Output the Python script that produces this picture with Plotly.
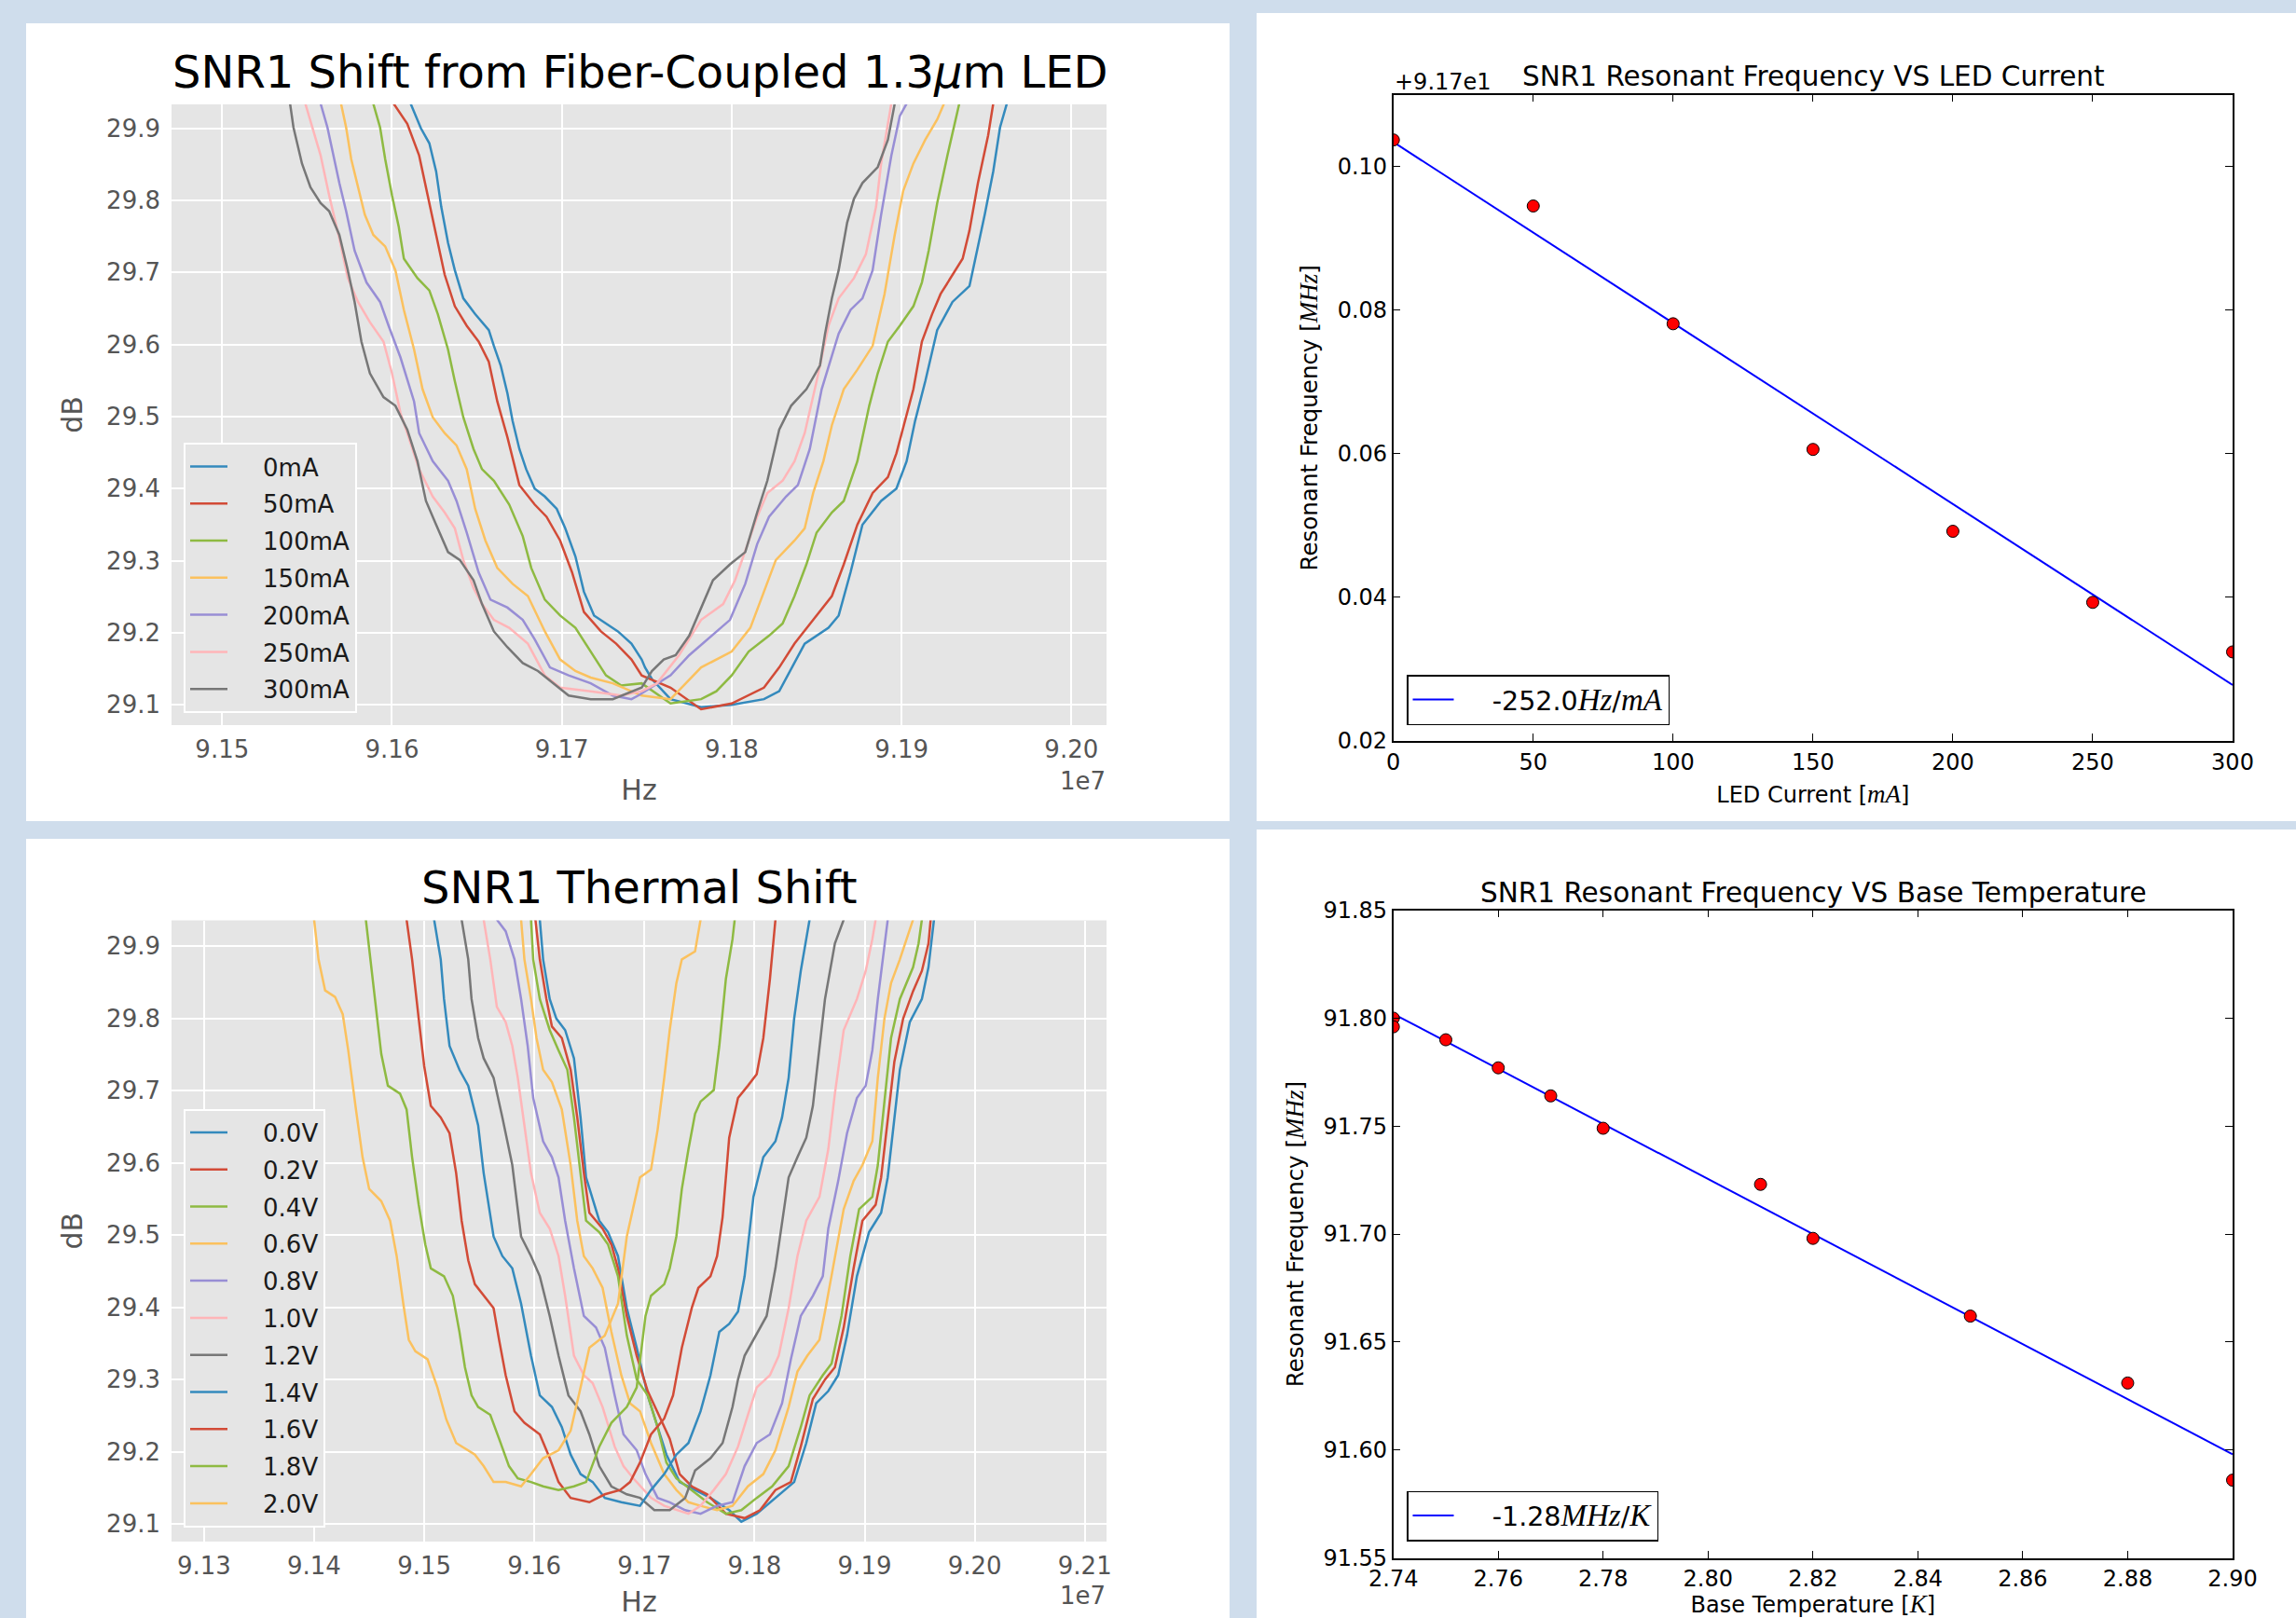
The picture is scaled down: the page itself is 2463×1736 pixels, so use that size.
import plotly.graph_objects as go

W, H = 2463, 1736

# ---------------- data: top-left, SNR1 shift vs LED current (freq MHz, dB) ----------------
LED_LABELS = ["0mA", "50mA", "100mA", "150mA", "200mA", "250mA", "300mA"]

LED_0mA = [(91.611, 29.934), (91.617, 29.900), (91.622, 29.879), (91.626, 29.840), (91.629, 29.791),
           (91.633, 29.741), (91.637, 29.703), (91.642, 29.664), (91.649, 29.642), (91.657, 29.620),
           (91.660, 29.598), (91.664, 29.571), (91.668, 29.532), (91.671, 29.494), (91.675, 29.455),
           (91.679, 29.427), (91.684, 29.400), (91.690, 29.389), (91.697, 29.372), (91.702, 29.345),
           (91.708, 29.306), (91.713, 29.257), (91.719, 29.224), (91.726, 29.213), (91.733, 29.202),
           (91.741, 29.185), (91.747, 29.163), (91.749, 29.152), (91.753, 29.136), (91.764, 29.108),
           (91.782, 29.097), (91.800, 29.100), (91.819, 29.108), (91.828, 29.119), (91.843, 29.185),
           (91.857, 29.207), (91.863, 29.224), (91.870, 29.284), (91.877, 29.350), (91.888, 29.383),
           (91.897, 29.400), (91.903, 29.438), (91.908, 29.494), (91.914, 29.549), (91.921, 29.620),
           (91.930, 29.659), (91.940, 29.681), (91.943, 29.714), (91.949, 29.780), (91.954, 29.840),
           (91.958, 29.901), (91.962, 29.934)]
LED_50mA = [(91.601, 29.934), (91.609, 29.906), (91.616, 29.862), (91.622, 29.796), (91.627, 29.741),
            (91.631, 29.697), (91.637, 29.653), (91.644, 29.626), (91.651, 29.604), (91.657, 29.576),
            (91.662, 29.521), (91.668, 29.471), (91.675, 29.405), (91.684, 29.378), (91.691, 29.361),
            (91.699, 29.328), (91.706, 29.284), (91.713, 29.229), (91.723, 29.202), (91.732, 29.185),
            (91.741, 29.163), (91.747, 29.141), (91.764, 29.124), (91.782, 29.094), (91.800, 29.102),
            (91.819, 29.124), (91.828, 29.152), (91.837, 29.185), (91.848, 29.218), (91.859, 29.251),
            (91.866, 29.295), (91.874, 29.350), (91.883, 29.394), (91.892, 29.416), (91.897, 29.449),
            (91.903, 29.504), (91.907, 29.538), (91.912, 29.604), (91.918, 29.642), (91.923, 29.670),
            (91.930, 29.697), (91.936, 29.719), (91.940, 29.758), (91.945, 29.824), (91.951, 29.890),
            (91.954, 29.934)]
LED_100mA = [(91.589, 29.934), (91.593, 29.901), (91.596, 29.857), (91.600, 29.807), (91.604, 29.763),
             (91.607, 29.719), (91.615, 29.692), (91.622, 29.675), (91.627, 29.642), (91.633, 29.593),
             (91.637, 29.549), (91.642, 29.499), (91.648, 29.455), (91.653, 29.427), (91.660, 29.411),
             (91.669, 29.378), (91.677, 29.334), (91.682, 29.290), (91.690, 29.246), (91.699, 29.224),
             (91.708, 29.207), (91.717, 29.174), (91.726, 29.141), (91.735, 29.127), (91.747, 29.130),
             (91.764, 29.102), (91.782, 29.108), (91.791, 29.119), (91.800, 29.141), (91.810, 29.174),
             (91.822, 29.196), (91.830, 29.213), (91.837, 29.251), (91.844, 29.295), (91.850, 29.339),
             (91.859, 29.367), (91.866, 29.383), (91.874, 29.438), (91.881, 29.515), (91.886, 29.560),
             (91.892, 29.604), (91.899, 29.626), (91.907, 29.653), (91.912, 29.686), (91.916, 29.730),
             (91.921, 29.796), (91.927, 29.862), (91.934, 29.934)]
LED_150mA = [(91.570, 29.934), (91.573, 29.901), (91.576, 29.857), (91.580, 29.818), (91.584, 29.780),
             (91.589, 29.752), (91.596, 29.736), (91.602, 29.703), (91.607, 29.648), (91.613, 29.593),
             (91.618, 29.538), (91.624, 29.499), (91.631, 29.477), (91.638, 29.460), (91.644, 29.427),
             (91.649, 29.372), (91.655, 29.328), (91.662, 29.290), (91.671, 29.268), (91.680, 29.251),
             (91.690, 29.202), (91.699, 29.163), (91.708, 29.147), (91.717, 29.138), (91.730, 29.130),
             (91.747, 29.113), (91.764, 29.108), (91.773, 29.130), (91.782, 29.152), (91.800, 29.174),
             (91.811, 29.207), (91.819, 29.257), (91.826, 29.301), (91.837, 29.328), (91.843, 29.345),
             (91.848, 29.394), (91.854, 29.438), (91.859, 29.488), (91.866, 29.538), (91.874, 29.565),
             (91.883, 29.598), (91.890, 29.670), (91.896, 29.752), (91.901, 29.813), (91.907, 29.851),
             (91.914, 29.884), (91.921, 29.912), (91.925, 29.934)]
LED_200mA = [(91.558, 29.934), (91.562, 29.901), (91.565, 29.868), (91.569, 29.824), (91.573, 29.785),
             (91.578, 29.730), (91.585, 29.686), (91.593, 29.659), (91.598, 29.626), (91.605, 29.582),
             (91.613, 29.521), (91.616, 29.477), (91.624, 29.438), (91.633, 29.411), (91.638, 29.383),
             (91.644, 29.339), (91.651, 29.284), (91.658, 29.246), (91.668, 29.235), (91.677, 29.218),
             (91.684, 29.191), (91.693, 29.152), (91.704, 29.141), (91.717, 29.130), (91.730, 29.113),
             (91.741, 29.108), (91.745, 29.113), (91.764, 29.141), (91.775, 29.169), (91.788, 29.196),
             (91.799, 29.218), (91.808, 29.268), (91.815, 29.323), (91.822, 29.361), (91.832, 29.389),
             (91.839, 29.405), (91.846, 29.455), (91.853, 29.538), (91.863, 29.615), (91.870, 29.648),
             (91.877, 29.664), (91.883, 29.703), (91.888, 29.780), (91.894, 29.862), (91.899, 29.917),
             (91.903, 29.934)]
LED_250mA = [(91.549, 29.934), (91.553, 29.901), (91.558, 29.862), (91.563, 29.807), (91.569, 29.747),
             (91.574, 29.692), (91.580, 29.659), (91.587, 29.631), (91.595, 29.604), (91.600, 29.560),
             (91.605, 29.505), (91.609, 29.477), (91.616, 29.427), (91.624, 29.389), (91.631, 29.367),
             (91.637, 29.345), (91.642, 29.301), (91.648, 29.262), (91.653, 29.240), (91.660, 29.218),
             (91.669, 29.207), (91.680, 29.185), (91.690, 29.141), (91.699, 29.124), (91.717, 29.119),
             (91.735, 29.113), (91.747, 29.119), (91.756, 29.130), (91.769, 29.169), (91.782, 29.218),
             (91.795, 29.240), (91.802, 29.273), (91.810, 29.328), (91.815, 29.361), (91.821, 29.394),
             (91.830, 29.411), (91.837, 29.438), (91.843, 29.477), (91.850, 29.549), (91.857, 29.626),
             (91.863, 29.664), (91.872, 29.692), (91.879, 29.725), (91.885, 29.791), (91.888, 29.851),
             (91.892, 29.906), (91.894, 29.934)]
LED_300mA = [(91.540, 29.934), (91.542, 29.901), (91.547, 29.851), (91.552, 29.818), (91.558, 29.796),
             (91.563, 29.785), (91.569, 29.752), (91.574, 29.703), (91.578, 29.659), (91.582, 29.604),
             (91.587, 29.560), (91.595, 29.527), (91.602, 29.515), (91.609, 29.482), (91.615, 29.438),
             (91.620, 29.383), (91.626, 29.350), (91.633, 29.312), (91.640, 29.301), (91.648, 29.273),
             (91.653, 29.240), (91.660, 29.202), (91.668, 29.180), (91.677, 29.158), (91.686, 29.147),
             (91.695, 29.130), (91.704, 29.113), (91.717, 29.108), (91.730, 29.108), (91.747, 29.124),
             (91.753, 29.147), (91.760, 29.163), (91.767, 29.169), (91.775, 29.196), (91.782, 29.235),
             (91.789, 29.273), (91.799, 29.295), (91.808, 29.312), (91.815, 29.367), (91.821, 29.411),
             (91.828, 29.482), (91.835, 29.515), (91.844, 29.538), (91.852, 29.571), (91.855, 29.615),
             (91.859, 29.664), (91.863, 29.703), (91.868, 29.769), (91.872, 29.802), (91.877, 29.824),
             (91.886, 29.846), (91.892, 29.884), (91.896, 29.934)]

# ---------------- data: bottom-left, SNR1 thermal shift (freq MHz, dB) ----------------
THERMAL_LABELS = ["0.0V", "0.2V", "0.4V", "0.6V", "0.8V", "1.0V", "1.2V", "1.4V", "1.6V", "1.8V", "2.0V"]

V_0p0 = [(91.605, 29.937), (91.608, 29.882), (91.614, 29.827), (91.620, 29.800), (91.628, 29.784),
         (91.636, 29.745), (91.642, 29.663), (91.647, 29.580), (91.659, 29.520), (91.667, 29.504),
         (91.676, 29.471), (91.684, 29.399), (91.693, 29.344), (91.703, 29.278), (91.712, 29.234),
         (91.720, 29.196), (91.732, 29.158), (91.746, 29.147), (91.760, 29.136), (91.777, 29.119),
         (91.788, 29.103), (91.802, 29.114), (91.819, 29.136), (91.836, 29.158), (91.847, 29.212),
         (91.856, 29.267), (91.867, 29.284), (91.876, 29.306), (91.884, 29.361), (91.893, 29.443),
         (91.904, 29.504), (91.915, 29.531), (91.921, 29.580), (91.927, 29.663), (91.932, 29.729),
         (91.941, 29.795), (91.952, 29.827), (91.958, 29.871), (91.963, 29.937)]
V_0p2 = [(91.601, 29.937), (91.605, 29.882), (91.611, 29.827), (91.616, 29.789), (91.625, 29.773),
         (91.633, 29.729), (91.639, 29.663), (91.645, 29.586), (91.650, 29.531), (91.662, 29.509),
         (91.670, 29.487), (91.676, 29.454), (91.684, 29.388), (91.693, 29.333), (91.703, 29.284),
         (91.715, 29.245), (91.723, 29.218), (91.732, 29.169), (91.743, 29.152), (91.757, 29.141),
         (91.774, 29.114), (91.791, 29.108), (91.805, 29.119), (91.819, 29.147), (91.833, 29.158),
         (91.842, 29.207), (91.853, 29.273), (91.864, 29.300), (91.873, 29.317), (91.881, 29.372),
         (91.890, 29.454), (91.898, 29.520), (91.910, 29.542), (91.915, 29.580), (91.921, 29.663),
         (91.927, 29.740), (91.935, 29.800), (91.944, 29.838), (91.952, 29.866), (91.958, 29.904),
         (91.960, 29.937)]
V_0p4 = [(91.597, 29.937), (91.599, 29.882), (91.605, 29.827), (91.614, 29.784), (91.622, 29.756),
         (91.630, 29.729), (91.636, 29.663), (91.642, 29.586), (91.647, 29.520), (91.659, 29.504),
         (91.667, 29.487), (91.676, 29.443), (91.684, 29.361), (91.693, 29.300), (91.703, 29.278),
         (91.712, 29.234), (91.720, 29.185), (91.729, 29.163), (91.743, 29.147), (91.757, 29.130),
         (91.774, 29.114), (91.788, 29.119), (91.802, 29.136), (91.816, 29.152), (91.831, 29.180),
         (91.842, 29.234), (91.850, 29.278), (91.862, 29.306), (91.870, 29.322), (91.879, 29.388),
         (91.887, 29.471), (91.895, 29.536), (91.907, 29.553), (91.912, 29.597), (91.918, 29.685),
         (91.924, 29.773), (91.932, 29.827), (91.944, 29.871), (91.949, 29.904), (91.952, 29.937)]
V_0p6 = [(91.588, 29.937), (91.591, 29.882), (91.597, 29.827), (91.602, 29.773), (91.608, 29.729),
         (91.616, 29.712), (91.625, 29.674), (91.633, 29.597), (91.639, 29.520), (91.645, 29.471),
         (91.653, 29.454), (91.662, 29.427), (91.670, 29.366), (91.679, 29.306), (91.687, 29.267),
         (91.696, 29.256), (91.706, 29.212), (91.718, 29.169), (91.729, 29.147), (91.740, 29.130),
         (91.751, 29.125), (91.766, 29.119), (91.780, 29.125), (91.794, 29.152), (91.808, 29.169),
         (91.819, 29.202), (91.831, 29.262), (91.839, 29.311), (91.848, 29.333), (91.859, 29.355),
         (91.864, 29.394), (91.873, 29.471), (91.881, 29.536), (91.890, 29.575), (91.898, 29.597),
         (91.907, 29.630), (91.912, 29.718), (91.918, 29.800), (91.924, 29.849), (91.932, 29.882),
         (91.938, 29.910), (91.944, 29.937)]
V_0p8 = [(91.566, 29.937), (91.574, 29.921), (91.582, 29.882), (91.588, 29.827), (91.594, 29.762),
         (91.599, 29.690), (91.608, 29.630), (91.616, 29.608), (91.622, 29.580), (91.628, 29.520),
         (91.636, 29.454), (91.645, 29.388), (91.656, 29.372), (91.664, 29.344), (91.673, 29.278),
         (91.681, 29.224), (91.693, 29.202), (91.701, 29.169), (91.712, 29.136), (91.723, 29.130),
         (91.737, 29.119), (91.751, 29.114), (91.766, 29.125), (91.780, 29.130), (91.791, 29.180),
         (91.802, 29.212), (91.814, 29.224), (91.825, 29.267), (91.833, 29.328), (91.842, 29.388),
         (91.853, 29.416), (91.862, 29.443), (91.867, 29.509), (91.876, 29.575), (91.884, 29.641),
         (91.893, 29.690), (91.901, 29.707), (91.907, 29.756), (91.912, 29.827), (91.918, 29.904),
         (91.921, 29.937)]
V_1p0 = [(91.554, 29.937), (91.560, 29.882), (91.566, 29.816), (91.574, 29.795), (91.580, 29.762),
         (91.585, 29.718), (91.591, 29.652), (91.597, 29.586), (91.605, 29.531), (91.614, 29.509),
         (91.622, 29.471), (91.628, 29.416), (91.636, 29.333), (91.645, 29.306), (91.653, 29.295),
         (91.662, 29.262), (91.673, 29.207), (91.681, 29.180), (91.690, 29.163), (91.706, 29.136),
         (91.718, 29.125), (91.729, 29.119), (91.740, 29.114), (91.751, 29.125), (91.763, 29.147),
         (91.774, 29.169), (91.785, 29.207), (91.794, 29.251), (91.802, 29.289), (91.814, 29.306),
         (91.822, 29.333), (91.831, 29.399), (91.839, 29.471), (91.847, 29.520), (91.859, 29.553),
         (91.867, 29.619), (91.873, 29.696), (91.881, 29.784), (91.893, 29.827), (91.901, 29.866),
         (91.907, 29.910), (91.910, 29.937)]
V_1p2 = [(91.534, 29.937), (91.540, 29.882), (91.543, 29.827), (91.549, 29.773), (91.554, 29.745),
         (91.563, 29.718), (91.571, 29.663), (91.580, 29.597), (91.588, 29.498), (91.597, 29.471),
         (91.605, 29.443), (91.614, 29.388), (91.622, 29.333), (91.631, 29.278), (91.642, 29.256),
         (91.650, 29.224), (91.659, 29.180), (91.670, 29.152), (91.684, 29.141), (91.696, 29.136),
         (91.709, 29.119), (91.723, 29.119), (91.737, 29.136), (91.746, 29.174), (91.760, 29.191),
         (91.771, 29.212), (91.780, 29.262), (91.785, 29.300), (91.791, 29.333), (91.799, 29.355),
         (91.811, 29.388), (91.819, 29.454), (91.825, 29.520), (91.831, 29.580), (91.839, 29.608),
         (91.847, 29.635), (91.853, 29.679), (91.859, 29.756), (91.864, 29.827), (91.873, 29.904),
         (91.881, 29.937)]
V_1p4 = [(91.509, 29.937), (91.515, 29.882), (91.518, 29.827), (91.523, 29.762), (91.532, 29.729),
         (91.540, 29.707), (91.549, 29.652), (91.554, 29.586), (91.563, 29.498), (91.571, 29.471),
         (91.580, 29.454), (91.588, 29.405), (91.597, 29.333), (91.605, 29.278), (91.616, 29.262),
         (91.625, 29.234), (91.633, 29.196), (91.642, 29.169), (91.653, 29.158), (91.664, 29.136),
         (91.679, 29.130), (91.696, 29.125), (91.706, 29.147), (91.718, 29.169), (91.729, 29.196),
         (91.740, 29.212), (91.751, 29.256), (91.760, 29.306), (91.768, 29.366), (91.777, 29.377),
         (91.785, 29.394), (91.791, 29.443), (91.799, 29.553), (91.808, 29.608), (91.819, 29.630),
         (91.825, 29.663), (91.831, 29.718), (91.836, 29.800), (91.842, 29.866), (91.850, 29.937)]
V_1p6 = [(91.484, 29.937), (91.489, 29.882), (91.495, 29.800), (91.500, 29.734), (91.506, 29.679),
         (91.515, 29.663), (91.523, 29.641), (91.529, 29.586), (91.534, 29.520), (91.540, 29.465),
         (91.546, 29.432), (91.554, 29.416), (91.563, 29.399), (91.568, 29.355), (91.574, 29.306),
         (91.582, 29.256), (91.591, 29.240), (91.605, 29.224), (91.614, 29.191), (91.622, 29.158),
         (91.633, 29.136), (91.650, 29.130), (91.664, 29.141), (91.678, 29.147), (91.687, 29.158),
         (91.696, 29.185), (91.706, 29.224), (91.718, 29.246), (91.726, 29.278), (91.734, 29.344),
         (91.743, 29.399), (91.749, 29.427), (91.760, 29.443), (91.766, 29.471), (91.771, 29.525),
         (91.777, 29.635), (91.785, 29.690), (91.794, 29.707), (91.802, 29.723), (91.808, 29.773),
         (91.814, 29.855), (91.819, 29.937)]
V_1p8 = [(91.447, 29.937), (91.451, 29.882), (91.455, 29.827), (91.461, 29.751), (91.467, 29.707),
         (91.478, 29.696), (91.484, 29.674), (91.489, 29.608), (91.495, 29.542), (91.501, 29.487),
         (91.506, 29.454), (91.518, 29.443), (91.526, 29.416), (91.532, 29.366), (91.537, 29.317),
         (91.543, 29.278), (91.549, 29.262), (91.560, 29.251), (91.568, 29.218), (91.577, 29.180),
         (91.585, 29.163), (91.597, 29.158), (91.608, 29.152), (91.622, 29.147), (91.636, 29.152),
         (91.647, 29.158), (91.659, 29.207), (91.670, 29.240), (91.684, 29.262), (91.693, 29.289),
         (91.701, 29.388), (91.706, 29.416), (91.718, 29.432), (91.723, 29.454), (91.729, 29.498),
         (91.734, 29.564), (91.740, 29.619), (91.746, 29.668), (91.751, 29.685), (91.763, 29.701),
         (91.768, 29.762), (91.774, 29.855), (91.780, 29.910), (91.782, 29.937)]
V_2p0 = [(91.400, 29.937), (91.404, 29.882), (91.410, 29.839), (91.419, 29.830), (91.426, 29.806),
         (91.431, 29.756), (91.438, 29.674), (91.444, 29.608), (91.450, 29.564), (91.461, 29.547),
         (91.469, 29.520), (91.475, 29.471), (91.481, 29.405), (91.486, 29.355), (91.492, 29.339),
         (91.503, 29.328), (91.512, 29.289), (91.520, 29.245), (91.529, 29.212), (91.546, 29.196),
         (91.554, 29.180), (91.563, 29.158), (91.574, 29.158), (91.588, 29.152), (91.597, 29.169),
         (91.608, 29.191), (91.622, 29.202), (91.633, 29.229), (91.642, 29.289), (91.650, 29.344),
         (91.664, 29.361), (91.676, 29.405), (91.684, 29.498), (91.696, 29.580), (91.706, 29.591),
         (91.712, 29.646), (91.718, 29.718), (91.723, 29.784), (91.729, 29.849), (91.734, 29.882),
         (91.746, 29.893), (91.751, 29.937)]

# ---------------- data: top-right, resonant frequency vs LED current ----------------
LED_CURRENT_mA = [0, 50, 100, 150, 200, 250, 300]
LED_RES_FREQ_MHz = [91.8037, 91.7945, 91.7781, 91.7606, 91.7492, 91.7393, 91.7324]
LED_FIT_X = [0, 300]
LED_FIT_Y = [91.8034, 91.7278]
LED_FIT_LABEL = "-252.0"

# ---------------- data: bottom-right, resonant frequency vs base temperature ----------------
BASE_TEMP_K = [2.74, 2.74, 2.75, 2.76, 2.77, 2.78, 2.81, 2.82, 2.85, 2.88, 2.90]
TEMP_RES_FREQ_MHz = [91.800, 91.796, 91.790, 91.777, 91.764, 91.749, 91.723, 91.698, 91.662, 91.631, 91.586]
TEMP_FIT_X = [2.74, 2.90]
TEMP_FIT_Y = [91.802, 91.598]
TEMP_FIT_LABEL = "-1.28"

# ---------------- tick labels ----------------
TL_XTICKS = ["9.15", "9.16", "9.17", "9.18", "9.19", "9.20"]
BL_XTICKS = ["9.13", "9.14", "9.15", "9.16", "9.17", "9.18", "9.19", "9.20", "9.21"]
DB_TICKS = ["29.1", "29.2", "29.3", "29.4", "29.5", "29.6", "29.7", "29.8", "29.9"]
TR_YTICKS = ["0.02", "0.04", "0.06", "0.08", "0.10"]

LED_SERIES = [LED_0mA, LED_50mA, LED_100mA, LED_150mA, LED_200mA, LED_250mA, LED_300mA]
THERMAL_SERIES = [V_0p0, V_0p2, V_0p4, V_0p6, V_0p8, V_1p0, V_1p2, V_1p4, V_1p6, V_1p8, V_2p0]

# ---------------- styling ----------------
CYCLE = ["#348ABD", "#D24B37", "#8EBA42", "#FBC15E", "#988ED5", "#FFB5B8", "#777777"]
SANS = "DejaVu Sans"
SERIF = "Liberation Serif"
PAGE_BG = "#CFDDEC"
GG_BG = "#E5E5E5"
GRAY_TXT = "#555555"
NB = "\u00a0"


def fx(px):
    return px / W


def fy(py):
    return 1 - py / H


def it(s, size):
    return f"<span style=\"font-family:'{SERIF}';font-size:{size}px\"><i>{s}</i></span>"


fig = go.Figure()

# top-left traces
for lab, pts, col in zip(LED_LABELS, LED_SERIES, CYCLE):
    fig.add_trace(go.Scatter(
        x=[p[0] * 1e6 for p in pts], y=[p[1] for p in pts], mode="lines", name=NB * 4 + lab,
        line=dict(color=col, width=2.5), xaxis="x", yaxis="y", legend="legend",
        legendgroup="a" + lab))

# bottom-left traces
for i, (lab, pts) in enumerate(zip(THERMAL_LABELS, THERMAL_SERIES)):
    fig.add_trace(go.Scatter(
        x=[p[0] * 1e6 for p in pts], y=[p[1] for p in pts], mode="lines", name=NB * 4 + lab,
        line=dict(color=CYCLE[i % len(CYCLE)], width=2.5), xaxis="x2", yaxis="y2", legend="legend2",
        legendgroup="b" + lab))

# top-right
fig.add_trace(go.Scatter(x=LED_FIT_X, y=LED_FIT_Y, mode="lines",
                         name=NB * 4 + LED_FIT_LABEL + it("Hz", 33) + "/" + it("mA", 33),
                         line=dict(color="#0000FF", width=2), xaxis="x3", yaxis="y3", legend="legend3"))
fig.add_trace(go.Scatter(x=LED_CURRENT_mA, y=LED_RES_FREQ_MHz, mode="markers", showlegend=False,
                         marker=dict(color="#FF0000", size=13, line=dict(color="black", width=1)),
                         xaxis="x3", yaxis="y3"))

# bottom-right
fig.add_trace(go.Scatter(x=TEMP_FIT_X, y=TEMP_FIT_Y, mode="lines",
                         name=NB * 4 + TEMP_FIT_LABEL + it("MHz", 33) + "/" + it("K", 33),
                         line=dict(color="#0000FF", width=2), xaxis="x4", yaxis="y4", legend="legend4"))
fig.add_trace(go.Scatter(x=BASE_TEMP_K, y=TEMP_RES_FREQ_MHz, mode="markers", showlegend=False,
                         marker=dict(color="#FF0000", size=13, line=dict(color="black", width=1)),
                         xaxis="x4", yaxis="y4"))

# ---------------- axes ----------------
gg_common = dict(showgrid=True, gridcolor="white", gridwidth=2, zeroline=False, showline=False,
                 ticks="", automargin=False, tickfont=dict(family=SANS, size=26, color=GRAY_TXT))
tl_x = [float(t) * 1e7 for t in TL_XTICKS]
bl_x = [float(t) * 1e7 for t in BL_XTICKS]
db_v = [float(t) for t in DB_TICKS]

classic = dict(showgrid=False, zeroline=False, showline=True, linecolor="black", linewidth=1.5,
               mirror="ticks", ticks="inside", ticklen=8, tickwidth=1.2, tickcolor="black", automargin=False,
               tickfont=dict(family=SANS, size=24, color="black"))

fig.update_layout(
    xaxis=dict(domain=[fx(184), fx(1187)], range=[9.14702e7, 9.20207e7], tickvals=tl_x, ticktext=TL_XTICKS,
               anchor="y", ticklabelstandoff=8,
               title=dict(text="Hz", font=dict(family=SANS, size=30, color=GRAY_TXT), standoff=18), **gg_common),
    yaxis=dict(domain=[fy(778), fy(112)], range=[29.072, 29.933], tickvals=db_v, ticktext=DB_TICKS,
               anchor="x", ticklabelstandoff=11,
               title=dict(text="dB", font=dict(family=SANS, size=30, color=GRAY_TXT), standoff=16), **gg_common),
    xaxis2=dict(domain=[fx(184), fx(1187)], range=[9.12705e7, 9.21197e7], tickvals=bl_x, ticktext=BL_XTICKS,
                anchor="y2", ticklabelstandoff=8,
                title=dict(text="Hz", font=dict(family=SANS, size=30, color=GRAY_TXT), standoff=18), **gg_common),
    yaxis2=dict(domain=[fy(1654), fy(987.5)], range=[29.0755, 29.936], tickvals=db_v, ticktext=DB_TICKS,
                anchor="x2", ticklabelstandoff=11,
                title=dict(text="dB", font=dict(family=SANS, size=30, color=GRAY_TXT), standoff=16), **gg_common),
    xaxis3=dict(domain=[fx(1494.7), fx(2395)], range=[0, 300], tickvals=LED_CURRENT_mA, anchor="y3",
                title=dict(text="LED Current [" + it("mA", 27) + "]",
                           font=dict(family=SANS, size=24, color="black"), standoff=14), **classic),
    yaxis3=dict(domain=[fy(795), fy(101.6)], range=[91.72, 91.81],
                tickvals=[91.7 + float(t) for t in TR_YTICKS], ticktext=TR_YTICKS, anchor="x3",
                title=dict(text="Resonant Frequency [" + it("MHz", 27) + "]",
                           font=dict(family=SANS, size=24.5, color="black"), standoff=14), **classic),
    xaxis4=dict(domain=[fx(1494.7), fx(2395)], range=[2.74, 2.90], dtick=0.02, tick0=2.74, tickformat=".2f",
                anchor="y4",
                title=dict(text="Base Temperature [" + it("K", 27) + "]",
                           font=dict(family=SANS, size=24, color="black"), standoff=22), **classic),
    yaxis4=dict(domain=[fy(1671.5), fy(976.6)], range=[91.55, 91.85], dtick=0.05, tick0=91.55, tickformat=".2f",
                anchor="x4",
                title=dict(text="Resonant Frequency [" + it("MHz", 27) + "]",
                           font=dict(family=SANS, size=24.5, color="black"), standoff=14), **classic),
)

# ---------------- legends ----------------
gg_leg = dict(bgcolor=GG_BG, bordercolor="white", borderwidth=2, xanchor="left", yanchor="top",
              font=dict(family=SANS, size=26, color="#1a1a1a"), traceorder="grouped", tracegroupgap=3,
              itemwidth=40)
cl_leg = dict(bgcolor="white", bordercolor="black", borderwidth=1.5, xanchor="left", yanchor="middle",
              font=dict(family=SANS, size=28.5, color="black"), itemwidth=44)
fig.update_layout(
    legend=dict(x=fx(197), y=fy(475), **gg_leg),
    legend2=dict(x=fx(197), y=fy(1189.5), **gg_leg),
    legend3=dict(x=fx(1509), y=fy(751), **cl_leg),
    legend4=dict(x=fx(1509), y=fy(1626.5), **cl_leg),
)

# ---------------- panels & backgrounds ----------------
shapes = []
for x0, y0, x1, y1 in [(28, 25, 1319, 881), (1348, 14, 2463, 881), (28, 900, 1319, 1736), (1348, 890, 2463, 1736)]:
    shapes.append(dict(type="rect", xref="paper", yref="paper", x0=fx(x0), x1=fx(x1), y0=fy(y1), y1=fy(y0),
                       fillcolor="white", line=dict(width=0), layer="below"))
for xa, ya in [("x", "y"), ("x2", "y2")]:
    shapes.append(dict(type="rect", xref=xa + " domain", yref=ya + " domain", x0=0, x1=1, y0=0, y1=1,
                       fillcolor=GG_BG, line=dict(width=0), layer="below"))

annotations = [
    dict(text="SNR1 Shift from Fiber-Coupled 1.3<i>μ</i>m LED", x=fx(687), y=fy(77), xref="paper", yref="paper",
         xanchor="center", yanchor="middle", showarrow=False, font=dict(family=SANS, size=48, color="black")),
    dict(text="SNR1 Thermal Shift", x=fx(686), y=fy(952), xref="paper", yref="paper",
         xanchor="center", yanchor="middle", showarrow=False, font=dict(family=SANS, size=48, color="black")),
    dict(text="SNR1 Resonant Frequency VS LED Current", x=fx(1945), y=fy(82), xref="paper", yref="paper",
         xanchor="center", yanchor="middle", showarrow=False, font=dict(family=SANS, size=29.5, color="black")),
    dict(text="SNR1 Resonant Frequency VS Base Temperature", x=fx(1945), y=fy(958), xref="paper", yref="paper",
         xanchor="center", yanchor="middle", showarrow=False, font=dict(family=SANS, size=29.5, color="black")),
    dict(text="1e7", x=fx(1188), y=fy(838), xref="paper", yref="paper", xanchor="right", yanchor="middle",
         showarrow=False, font=dict(family=SANS, size=26, color=GRAY_TXT)),
    dict(text="1e7", x=fx(1188), y=fy(1712), xref="paper", yref="paper", xanchor="right", yanchor="middle",
         showarrow=False, font=dict(family=SANS, size=26, color=GRAY_TXT)),
    dict(text="+9.17e1", x=fx(1494), y=fy(88), xref="paper", yref="paper", xanchor="left", yanchor="middle",
         showarrow=False, font=dict(family=SANS, size=24, color="black")),
]

fig.update_layout(
    template="none",
    width=W, height=H, margin=dict(l=0, r=0, t=0, b=0, pad=0), autosize=False,
    paper_bgcolor=PAGE_BG, plot_bgcolor="rgba(0,0,0,0)",
    shapes=shapes, annotations=annotations,
    font=dict(family=SANS, color="black"),
)

fig.write_html("out.html", config={"displayModeBar": False},
               post_script="document.body.style.margin='0';document.body.style.overflow='hidden';")
